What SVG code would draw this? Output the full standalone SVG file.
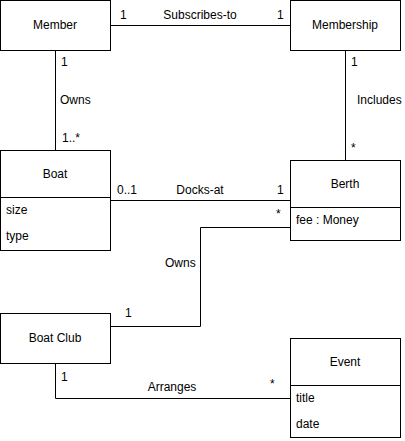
<svg xmlns="http://www.w3.org/2000/svg" width="405" height="441" viewBox="0 0 405 441">
<style>
.box{fill:#fff;stroke:#000;stroke-width:1}
.ln{fill:none;stroke:#000;stroke-width:1}
text{font-family:"Liberation Sans",Arial,sans-serif;font-size:12px;fill:#000}
.c{text-anchor:middle}
</style>
<rect width="405" height="441" fill="#fff"/>
<g id="connectors">
<path class="ln" d="M110.5 25.5H290.5"/>
<path class="ln" d="M55.5 50.5V150.5"/>
<path class="ln" d="M345.5 50.5V160.5"/>
<path class="ln" d="M110.5 200.5H290.5"/>
<path class="ln" d="M290.5 227.5H200.5V326.5H110.5"/>
<path class="ln" d="M55.5 363.5V398.5H290.5"/>
<text x="120" y="19">1</text>
<text class="c" x="200" y="19">Subscribes-to</text>
<text x="277" y="19">1</text>
<text x="61" y="66">1</text>
<text x="60" y="104">Owns</text>
<text x="62" y="142">1..*</text>
<text x="351" y="66">1</text>
<text x="357" y="104">Includes</text>
<text x="351" y="152">*</text>
<text x="117" y="194">0..1</text>
<text class="c" x="200" y="194">Docks-at</text>
<text x="277" y="194">1</text>
<text x="276" y="218">*</text>
<text x="165" y="267">Owns</text>
<text x="125" y="317">1</text>
<text x="61" y="381">1</text>
<text class="c" x="172" y="391">Arranges</text>
<text x="270" y="388">*</text>
</g>
<g id="member">
<rect class="box" x="0.5" y="0.5" width="110" height="50"/>
<text class="c" x="55" y="29">Member</text>
</g>
<g id="membership">
<rect class="box" x="290.5" y="0.5" width="110" height="50"/>
<text class="c" x="345" y="29">Membership</text>
</g>
<g id="boat">
<rect class="box" x="0.5" y="150.5" width="110" height="100"/>
<path class="ln" d="M0.5 197.5H110.5"/>
<text class="c" x="55" y="178">Boat</text>
<text x="6" y="214">size</text>
<text x="6" y="240">type</text>
</g>
<g id="berth">
<rect class="box" x="290.5" y="160.5" width="110" height="80"/>
<path class="ln" d="M290.5 207.5H400.5"/>
<text class="c" x="345" y="188">Berth</text>
<text x="296" y="224">fee : Money</text>
</g>
<g id="boatclub">
<rect class="box" x="0.5" y="313.5" width="110" height="50"/>
<text class="c" x="55" y="342">Boat Club</text>
</g>
<g id="event">
<rect class="box" x="290.5" y="338.5" width="110" height="99"/>
<path class="ln" d="M290.5 385.5H400.5"/>
<text class="c" x="345" y="366">Event</text>
<text x="296" y="402">title</text>
<text x="296" y="428">date</text>
</g>
</svg>
